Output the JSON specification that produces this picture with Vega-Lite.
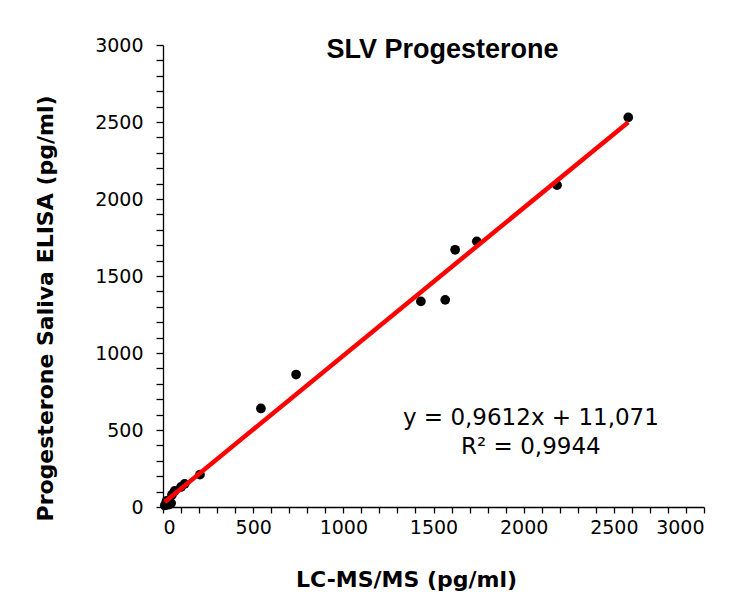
{
  "$schema": "https://vega.github.io/schema/vega-lite/v6.json",
  "autosize": "none",
  "width": 541,
  "height": 462,
  "padding": {"left": 163, "top": 45, "right": 34, "bottom": 90},
  "background": "white",
  "config": {
    "view": {"stroke": null},
    "axis": {
      "grid": false,
      "domainColor": "black",
      "domainWidth": 1.3,
      "tickColor": "black",
      "tickWidth": 1.3,
      "labelColor": "black",
      "labelFont": "DejaVu Sans",
      "labelFontSize": 19,
      "titleFont": "DejaVu Sans",
      "titleFontWeight": "bold",
      "titleFontSize": 22,
      "titleColor": "black"
    }
  },
  "title": {
    "text": "SLV Progesterone",
    "font": "Liberation Sans",
    "fontSize": 27,
    "fontWeight": "bold",
    "color": "black",
    "anchor": "middle",
    "dx": 9,
    "offset": -49,
    "baseline": "alphabetic"
  },
  "datasets": {
    "points": [
      {"lcms": 2580, "elisa": 2530},
      {"lcms": 2185, "elisa": 2090},
      {"lcms": 1740, "elisa": 1725},
      {"lcms": 1620, "elisa": 1670},
      {"lcms": 1565, "elisa": 1345},
      {"lcms": 1430, "elisa": 1335},
      {"lcms": 738, "elisa": 860},
      {"lcms": 543, "elisa": 640},
      {"lcms": 205, "elisa": 210},
      {"lcms": 120, "elisa": 150},
      {"lcms": 100, "elisa": 130},
      {"lcms": 65, "elisa": 105},
      {"lcms": 50, "elisa": 80},
      {"lcms": 35, "elisa": 45},
      {"lcms": 25, "elisa": 30},
      {"lcms": 15, "elisa": 20},
      {"lcms": 30, "elisa": 15},
      {"lcms": 45, "elisa": 25},
      {"lcms": 20, "elisa": 40},
      {"lcms": 10, "elisa": 10}
    ],
    "note": [
      {"label": "y = 0,9612x + 11,071\nR² = 0,9944"}
    ]
  },
  "layer": [
    {
      "data": {"name": "points"},
      "mark": {"type": "point", "filled": true, "shape": "circle", "size": 95, "color": "black", "opacity": 1},
      "encoding": {
        "x": {
          "field": "lcms",
          "type": "quantitative",
          "scale": {"domain": [0, 3000], "nice": false},
          "axis": {
            "title": "LC-MS/MS (pg/ml)",
            "values": [0,100,200,300,400,500,600,700,800,900,1000,1100,1200,1300,1400,1500,1600,1700,1800,1900,2000,2100,2200,2300,2400,2500,2600,2700,2800,2900,3000],
            "labelExpr": "datum.value % 500 === 0 ? datum.label : ''",
            "format": "d",
            "tickSize": 6,
            "labelPadding": 5,
            "labelOverlap": false,
            "titleX": 243,
            "titleY": 72,
            "titleAlign": "center",
            "titleBaseline": "middle"
          }
        },
        "y": {
          "field": "elisa",
          "type": "quantitative",
          "scale": {"domain": [0, 3000], "nice": false},
          "axis": {
            "title": "Progesterone Saliva ELISA (pg/ml)",
            "values": [0,100,200,300,400,500,600,700,800,900,1000,1100,1200,1300,1400,1500,1600,1700,1800,1900,2000,2100,2200,2300,2400,2500,2600,2700,2800,2900,3000],
            "labelExpr": "datum.value % 500 === 0 ? datum.label : ''",
            "format": "d",
            "tickSize": 7,
            "labelPadding": 13,
            "labelOverlap": false,
            "titleAngle": -90,
            "titleX": -118,
            "titleY": 263,
            "titleAlign": "center",
            "titleBaseline": "middle"
          }
        }
      }
    },
    {
      "data": {"name": "points"},
      "transform": [{"regression": "elisa", "on": "lcms"}],
      "mark": {"type": "line", "color": "#ff0000", "strokeWidth": 4.5},
      "encoding": {
        "x": {
          "field": "lcms",
          "type": "quantitative",
          "scale": {"domain": [0, 3000], "nice": false},
          "axis": {
            "title": "LC-MS/MS (pg/ml)",
            "values": [0,100,200,300,400,500,600,700,800,900,1000,1100,1200,1300,1400,1500,1600,1700,1800,1900,2000,2100,2200,2300,2400,2500,2600,2700,2800,2900,3000],
            "labelExpr": "datum.value % 500 === 0 ? datum.label : ''",
            "format": "d",
            "tickSize": 6,
            "labelPadding": 5,
            "labelOverlap": false,
            "titleX": 243,
            "titleY": 72,
            "titleAlign": "center",
            "titleBaseline": "middle"
          }
        },
        "y": {
          "field": "elisa",
          "type": "quantitative",
          "scale": {"domain": [0, 3000], "nice": false},
          "axis": {
            "title": "Progesterone Saliva ELISA (pg/ml)",
            "values": [0,100,200,300,400,500,600,700,800,900,1000,1100,1200,1300,1400,1500,1600,1700,1800,1900,2000,2100,2200,2300,2400,2500,2600,2700,2800,2900,3000],
            "labelExpr": "datum.value % 500 === 0 ? datum.label : ''",
            "format": "d",
            "tickSize": 7,
            "labelPadding": 13,
            "labelOverlap": false,
            "titleAngle": -90,
            "titleX": -118,
            "titleY": 263,
            "titleAlign": "center",
            "titleBaseline": "middle"
          }
        }
      }
    },
    {
      "data": {"name": "note"},
      "mark": {
        "type": "text",
        "font": "DejaVu Sans",
        "fontSize": 23,
        "fontWeight": "normal",
        "color": "black",
        "align": "center",
        "baseline": "middle",
        "lineBreak": "\n",
        "lineHeight": 29
      },
      "encoding": {
        "x": {
          "datum": 2040,
          "type": "quantitative",
          "scale": {"domain": [0, 3000], "nice": false},
          "axis": {
            "title": "LC-MS/MS (pg/ml)",
            "values": [0,100,200,300,400,500,600,700,800,900,1000,1100,1200,1300,1400,1500,1600,1700,1800,1900,2000,2100,2200,2300,2400,2500,2600,2700,2800,2900,3000],
            "labelExpr": "datum.value % 500 === 0 ? datum.label : ''",
            "format": "d",
            "tickSize": 6,
            "labelPadding": 5,
            "labelOverlap": false,
            "titleX": 243,
            "titleY": 72,
            "titleAlign": "center",
            "titleBaseline": "middle"
          }
        },
        "y": {
          "datum": 575,
          "type": "quantitative",
          "scale": {"domain": [0, 3000], "nice": false},
          "axis": {
            "title": "Progesterone Saliva ELISA (pg/ml)",
            "values": [0,100,200,300,400,500,600,700,800,900,1000,1100,1200,1300,1400,1500,1600,1700,1800,1900,2000,2100,2200,2300,2400,2500,2600,2700,2800,2900,3000],
            "labelExpr": "datum.value % 500 === 0 ? datum.label : ''",
            "format": "d",
            "tickSize": 7,
            "labelPadding": 13,
            "labelOverlap": false,
            "titleAngle": -90,
            "titleX": -118,
            "titleY": 263,
            "titleAlign": "center",
            "titleBaseline": "middle"
          }
        },
        "text": {"field": "label", "type": "nominal"}
      }
    }
  ]
}
